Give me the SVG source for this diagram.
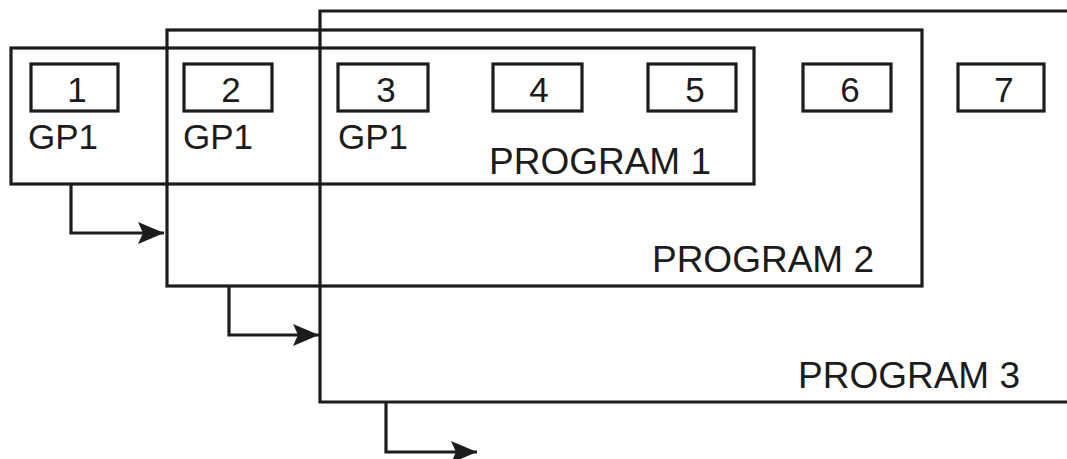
<svg xmlns="http://www.w3.org/2000/svg" width="1067" height="459" viewBox="0 0 1067 459">
<defs>
<style>
.frame{fill:none;stroke:#1c1c1c;stroke-width:3.2}
.box{fill:none;stroke:#1c1c1c;stroke-width:3.2}
.conn{fill:none;stroke:#1c1c1c;stroke-width:3.2}
text{font-family:"Liberation Sans",Arial,sans-serif;font-size:35px;fill:#1c1c1c}
.num{text-anchor:middle}
.lbl{font-size:37px}
</style>
<marker id="arrow" markerUnits="userSpaceOnUse" markerWidth="28" markerHeight="24" refX="26" refY="12" orient="auto">
<path d="M0,1 L26,12 L0,23 L5,12 Z" fill="#1c1c1c"/>
</marker>
</defs>
<rect width="1067" height="459" fill="#ffffff"/>
<g id="program3">
<path class="frame" d="M1070,11 H320 V402 H1070"/>
<text class="lbl" x="798" y="388">PROGRAM 3</text>
</g>
<g id="program2">
<rect class="frame" x="167" y="30" width="755" height="256"/>
<text class="lbl" x="874" y="272" text-anchor="end">PROGRAM 2</text>
</g>
<g id="program1">
<rect class="frame" x="11" y="48" width="743" height="136"/>
<text class="lbl" x="489" y="174">PROGRAM 1</text>
</g>
<g id="slot1">
<rect class="box" x="31" y="64" width="87" height="47"/>
<text class="num" x="77" y="102">1</text>
<text x="28" y="149">GP1</text>
</g>
<g id="slot2">
<rect class="box" x="184" y="64" width="88" height="47"/>
<text class="num" x="231" y="102">2</text>
<text x="183" y="149">GP1</text>
</g>
<g id="slot3">
<rect class="box" x="338" y="64" width="90" height="47"/>
<text class="num" x="386" y="102">3</text>
<text x="338" y="149">GP1</text>
</g>
<g id="slot4">
<rect class="box" x="493" y="64" width="89" height="47"/>
<text class="num" x="539" y="102">4</text>
</g>
<g id="slot5">
<rect class="box" x="648" y="64" width="88" height="47"/>
<text class="num" x="695" y="102">5</text>
</g>
<g id="slot6">
<rect class="box" x="803" y="64" width="88" height="47"/>
<text class="num" x="850" y="102">6</text>
</g>
<g id="slot7">
<rect class="box" x="958" y="64" width="86" height="47"/>
<text class="num" x="1004" y="102">7</text>
</g>
<g id="connectors">
<path class="conn" d="M71,184 V233 H164" marker-end="url(#arrow)"/>
<path class="conn" d="M229,286 V335 H319" marker-end="url(#arrow)"/>
<path class="conn" d="M386,402 V452 H477" marker-end="url(#arrow)"/>
</g>
</svg>
